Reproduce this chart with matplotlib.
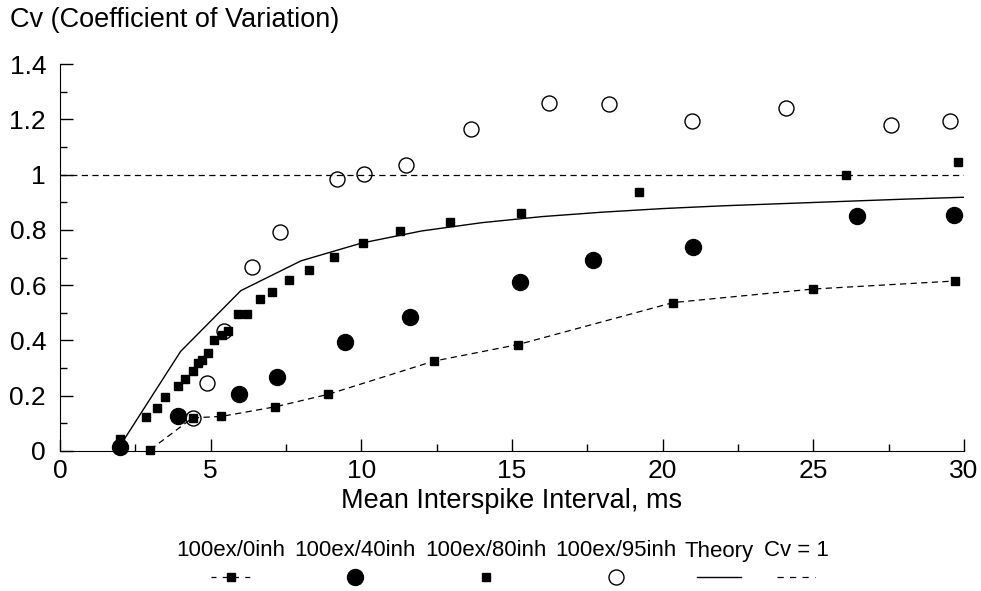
import matplotlib
matplotlib.use("Agg")
import matplotlib.pyplot as plt
from matplotlib.ticker import MultipleLocator

plt.rcParams['font.family'] = ['Liberation Sans', 'DejaVu Sans']

# 100ex/0inh (dashed line with squares)
isi_0inh = [3.0, 4.4, 5.35, 7.15, 8.9, 12.4, 15.2, 20.35, 25.0, 29.7]
cv_0inh = [0.005, 0.12, 0.125, 0.16, 0.205, 0.325, 0.385, 0.537, 0.586, 0.615]

# 100ex/40inh (big filled circles)
isi_40inh = [2.0, 3.9, 5.95, 7.2, 9.47, 11.6, 15.28, 17.7, 21.02, 26.44, 29.66]
cv_40inh = [0.015, 0.128, 0.207, 0.267, 0.393, 0.483, 0.61, 0.692, 0.739, 0.849, 0.855]

# 100ex/80inh (small squares, no line)
isi_80inh = [1.98, 2.85, 3.21, 3.48, 3.92, 4.15, 4.42, 4.59, 4.72, 4.9, 5.12, 5.37,
             5.56, 5.92, 6.21, 6.65, 7.05, 7.61, 8.25, 9.09, 10.06, 11.28, 12.93,
             15.31, 19.22, 26.09, 29.79]
cv_80inh = [0.045, 0.122, 0.157, 0.196, 0.236, 0.262, 0.29, 0.317, 0.331, 0.353, 0.4, 0.42,
            0.435, 0.494, 0.496, 0.549, 0.576, 0.619, 0.655, 0.701, 0.754, 0.796, 0.828,
            0.861, 0.937, 0.998, 1.044]

# 100ex/95inh (open circles)
isi_95inh = [4.4, 4.87, 5.45, 6.38, 7.3, 9.18, 10.1, 11.48, 13.65, 16.22, 18.23,
             20.99, 24.09, 27.57, 29.54]
cv_95inh = [0.118, 0.245, 0.434, 0.665, 0.793, 0.984, 1.002, 1.033, 1.164, 1.26, 1.256,
            1.195, 1.242, 1.178, 1.193]

# theory curve
isi_theory = [2, 4, 6, 8, 10, 12, 14, 16, 18, 20, 22, 24, 26, 28, 30]
cv_theory = [0.02, 0.36, 0.58, 0.688, 0.752, 0.796, 0.826, 0.848, 0.864, 0.877,
             0.887, 0.895, 0.903, 0.911, 0.918]

# reference line
isi_ref = [0, 30]
cv_ref = [1, 1]

legend_labels = ["100ex/0inh", "100ex/40inh", "100ex/80inh", "100ex/95inh", "Theory", "Cv = 1"]

fig = plt.figure(figsize=(9.81, 5.91), dpi=100)
ax = fig.add_axes([60 / 981, 140 / 591, 904 / 981, 387 / 591])

dash = (0, (5, 3.5))
ax.plot(isi_ref, cv_ref, color='black', lw=0.9, linestyle=dash)
ax.plot(isi_theory, cv_theory, color='black', lw=1.0)
ax.plot(isi_0inh, cv_0inh, color='black', lw=0.9, linestyle=dash,
        marker='s', markersize=5.5, clip_on=False)
ax.plot(isi_80inh, cv_80inh, linestyle='none', marker='s', markersize=5.8,
        color='black', clip_on=False)
ax.plot(isi_40inh, cv_40inh, linestyle='none', marker='o', markersize=11.5,
        color='black', clip_on=False)
ax.plot(isi_95inh, cv_95inh, linestyle='none', marker='o', markersize=10.8,
        markerfacecolor='none', markeredgecolor='black', markeredgewidth=1.0, clip_on=False)

ax.set_xlim(0, 30)
ax.set_ylim(0, 1.4)
ax.xaxis.set_major_locator(MultipleLocator(5))
ax.xaxis.set_minor_locator(MultipleLocator(2.5))
ax.yaxis.set_major_locator(MultipleLocator(0.2))
ax.yaxis.set_minor_locator(MultipleLocator(0.1))
ax.set_yticks([0, 0.2, 0.4, 0.6, 0.8, 1.0, 1.2, 1.4])
ax.set_yticklabels(["0", "0.2", "0.4", "0.6", "0.8", "1", "1.2", "1.4"])
ax.tick_params(which='both', direction='in', labelsize=19, width=1.0)
ax.tick_params(which='major', length=9)
ax.tick_params(which='minor', length=5)
ax.tick_params(axis='y', pad=10)
ax.tick_params(axis='x', pad=6)
for s in ['top', 'right']:
    ax.spines[s].set_visible(False)
ax.set_xlabel("Mean Interspike Interval, ms", fontsize=19.5, labelpad=3)
fig.text(10 / 981, 1 - 20 / 591, "Cv (Coefficient of Variation)", fontsize=19.5,
         ha='left', va='center')

# legend: labels above handles, drawn in a pixel-space overlay axes
lax = fig.add_axes([0, 0, 1, 1])
lax.set_xlim(0, 981)
lax.set_ylim(591, 0)
lax.axis('off')
centers = [231, 355, 486, 616, 719, 796]
label_y = 551
handle_y = 577
for cx, lab in zip(centers, legend_labels):
    lax.text(cx, label_y, lab, fontsize=16, ha='center', va='center')
# 100ex/0inh handle
lax.plot([centers[0] - 20, centers[0] + 20], [handle_y, handle_y], color='black',
         lw=0.9, linestyle=(0, (4, 5)))
lax.plot([centers[0]], [handle_y], marker='s', markersize=5.5, color='black')
lax.plot([centers[1]], [handle_y], marker='o', markersize=11.5, color='black')
lax.plot([centers[2]], [handle_y], marker='s', markersize=5.8, color='black')
lax.plot([centers[3]], [handle_y], marker='o', markersize=10.8, markerfacecolor='none',
         markeredgecolor='black', markeredgewidth=1.0)
lax.plot([centers[4] - 22, centers[4] + 22], [handle_y, handle_y], color='black', lw=1.0)
lax.plot([centers[5] - 19, centers[5] + 19], [handle_y, handle_y], color='black',
         lw=0.9, linestyle=(0, (5, 5)))

fig.savefig("out.png", dpi=100)
